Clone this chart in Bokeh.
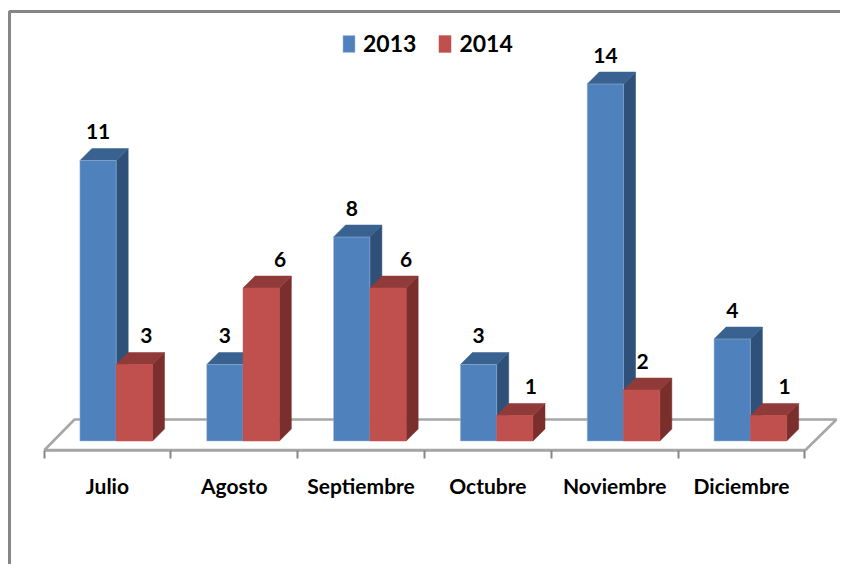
from bokeh.plotting import figure
from bokeh.models import LinearAxis, FixedTicker, Legend, LegendItem, Range1d
from bokeh.core.properties import value
from bokeh.embed import file_html
from bokeh.resources import INLINE

categories = ["Julio", "Agosto", "Septiembre", "Octubre", "Noviembre", "Diciembre"]
series_names = ["2013", "2014"]
values_2013 = [11, 3, 8, 3, 14, 4]
values_2014 = [3, 6, 6, 1, 2, 1]
label_shift_2014 = [12, 19, 18, 16, 1, 16]

W, H = 840, 564
ORIGIN = 0
PX_CAT = 126.83
PX_UNIT = 25.5
X0, Y0 = 43.5, 440.5
FONT = value("Lato")


def dx(px):
    return (px - X0) / PX_CAT


def dy(py):
    return (Y0 - py) / PX_UNIT


p = figure(
    width=W, height=H, output_backend="svg", toolbar_location=None,
    x_range=Range1d(dx(ORIGIN), dx(ORIGIN + W)), y_range=Range1d(dy(ORIGIN + H), dy(ORIGIN)),
    min_border=0, min_border_left=0, min_border_right=0, min_border_top=0, min_border_bottom=0,
    outline_line_color=None, x_axis_type=None, y_axis_type=None,
)
p.grid.visible = False

# chart frame
p.line([dx(9), dx(9), dx(ORIGIN + W)], [dy(ORIGIN + H), dy(11), dy(11)], line_color="#868686", line_width=3)

# floor of the 3D plot
p.patch([dx(44), dx(74), dx(836), dx(805)], [dy(449.5), dy(419), dy(419), dy(449.5)],
        fill_color="#FFFFFF", line_color="#A6A6A6", line_width=2.5)

# category axis: tick marks between categories
tick_axis = LinearAxis(ticker=FixedTicker(ticks=list(range(len(categories) + 1))),
                       fixed_location=dy(449.5), bounds=(0, len(categories)))
tick_axis.major_label_text_font_size = "0px"
tick_axis.major_label_text_color = None
tick_axis.axis_line_color = "#A6A6A6"
tick_axis.axis_line_width = 2.5
tick_axis.major_tick_line_color = "#868686"
tick_axis.major_tick_line_width = 2
tick_axis.major_tick_in = 0
tick_axis.major_tick_out = 8
tick_axis.minor_tick_line_color = None
p.add_layout(tick_axis, "below")

# category axis: labels centred on each category
centers = [i + 0.5 for i in range(len(categories))]
label_axis = LinearAxis(ticker=FixedTicker(ticks=centers), fixed_location=dy(449.5))
label_axis.major_label_overrides = {c: n for c, n in zip(centers, categories)}
label_axis.major_label_text_font = "Lato"
label_axis.major_label_text_font_style = "bold"
label_axis.major_label_text_font_size = "21px"
label_axis.major_label_text_color = "#000000"
label_axis.major_label_standoff = 17
label_axis.axis_line_color = None
label_axis.major_tick_line_color = None
label_axis.minor_tick_line_color = None
p.add_layout(label_axis, "below")

BAR = 36.3 / PX_CAT
SHIFT = 8.8 / PX_CAT
DX, DY = 12 / PX_CAT, 12 / PX_UNIT
styles = [("#4F81BD", "#3A6291", "#2F5078"), ("#C0504D", "#903B39", "#7A2F2D")]
legend_items = []

for s, vals in enumerate([values_2013, values_2014]):
    front, top, side = styles[s]
    lefts = [c + SHIFT - BAR + s * BAR for c in centers]
    rights = [l + BAR for l in lefts]
    p.patches([[r, r + DX, r + DX, r] for r in rights],
              [[0, DY, v + DY, v] for v in vals],
              fill_color=side, line_color=side, line_width=0.5)
    p.patches([[l, l + DX, r + DX, r] for l, r in zip(lefts, rights)],
              [[v, v + DY, v + DY, v] for v in vals],
              fill_color=top, line_color=top, line_width=0.5)
    bars = p.vbar(x=[l + BAR / 2 for l in lefts], width=BAR, bottom=0, top=vals,
                  fill_color=front, line_color="#9DB8D9" if s == 0 else front, line_width=0.5)
    legend_items.append(LegendItem(label=series_names[s], renderers=[bars]))
    shifts = [0] * len(vals) if s == 0 else label_shift_2014
    p.text(x=[l + BAR / 2 + sh / PX_CAT for l, sh in zip(lefts, shifts)], y=vals,
           text=[str(v) for v in vals], text_font=FONT, text_font_style="bold",
           text_font_size="21px", text_color="#000000", text_align="center",
           text_baseline="alphabetic", y_offset=-29)

legend = Legend(items=legend_items, orientation="horizontal", location=(341, 507),
                background_fill_alpha=0, border_line_color=None,
                glyph_width=15, glyph_height=21, label_standoff=7, spacing=21,
                padding=0, margin=0,
                label_text_font="Lato", label_text_font_style="bold",
                label_text_font_size="23px", label_text_color="#000000")
p.add_layout(legend, "center")

open("out.html", "w").write(file_html(p, INLINE))
